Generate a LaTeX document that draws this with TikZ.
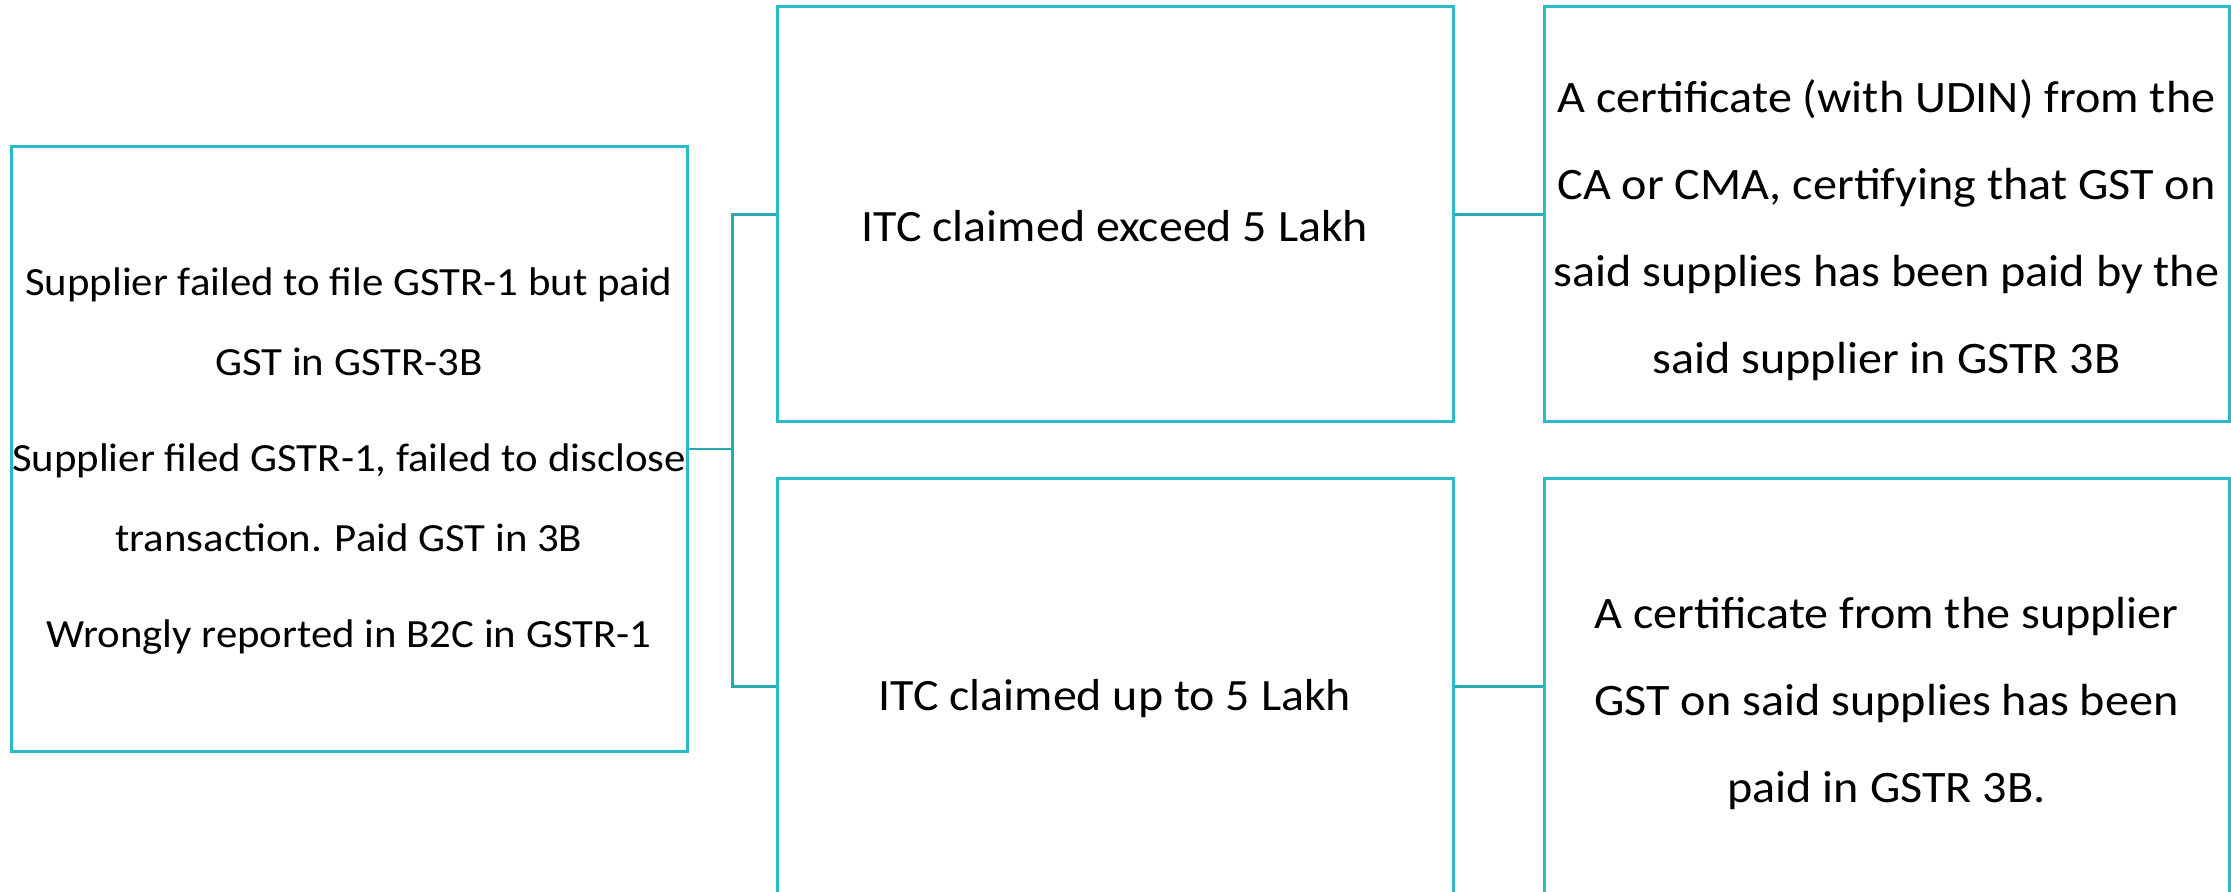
\documentclass[tikz,border=0pt]{standalone}
\usepackage{fontspec}
\setmainfont[FakeStretch=1.07]{Carlito}
\usetikzlibrary{positioning}
\definecolor{boxline}{HTML}{2BBBC8}
\definecolor{linkline}{HTML}{26A9B3}
% taller first line pushes the text block a little down in its box
\newcommand{\dropstrut}[1]{\rule{0pt}{#1}}

\begin{document}
\begin{tikzpicture}[node distance=44pt,
  box/.style={draw=boxline, line width=1.5pt, minimum width=338pt, minimum height=207.5pt, align=center, inner sep=0pt},
  link/.style={draw=linkline, line width=1.3pt}]
  \useasboundingbox (0,0) rectangle (1115.5pt,-446pt);

  \node[box, font=\fontsize{22.4}{40}\selectfont]  (itcHigh)  at (557.5pt,-107.25pt) {\dropstrut{27.5pt}ITC claimed exceed 5 Lakh};
  \node[box, font=\fontsize{22.4}{40}\selectfont, below = 27pt of itcHigh]  (itcLow)  {\dropstrut{27.5pt}ITC claimed up to 5 Lakh};
  \node[box, minimum width=342.5pt, font=\fontsize{22.5}{43.5}\selectfont, right = of itcHigh]  (certCA)
    {\dropstrut{32pt}A certificate (with UDIN) from the\\ CA or CMA, certifying that GST on\\ said supplies has been paid by the\\ said supplier in GSTR 3B};
  \node[box, minimum width=342.5pt, font=\fontsize{22.5}{43.5}\selectfont, right = of itcLow]  (certSup)
    {\dropstrut{33pt}A certificate from the supplier\\ GST on said supplies has been\\ paid in GSTR 3B.};
  \node[box, minimum height=302pt, font=\fontsize{20}{40}\selectfont]  (cases)  at (174.5pt,-224.5pt)
    {\dropstrut{26pt}Supplier failed to file GSTR-1 but paid\\ GST in GSTR-3B\\[8pt] Supplier filed GSTR-1, failed to disclose\\ transaction. Paid GST in 3B\\[8pt] Wrongly reported in B2C in GSTR-1};

  % fork from the cases to both limits
  \draw[link] (cases.east) -- ++(22pt,0) coordinate (fork);
  \draw[link] (itcHigh.west) -| (fork) |- (itcLow.west);
  \draw[link] (itcHigh) -- (certCA);
  \draw[link] (itcLow) -- (certSup);
\end{tikzpicture}
\end{document}
